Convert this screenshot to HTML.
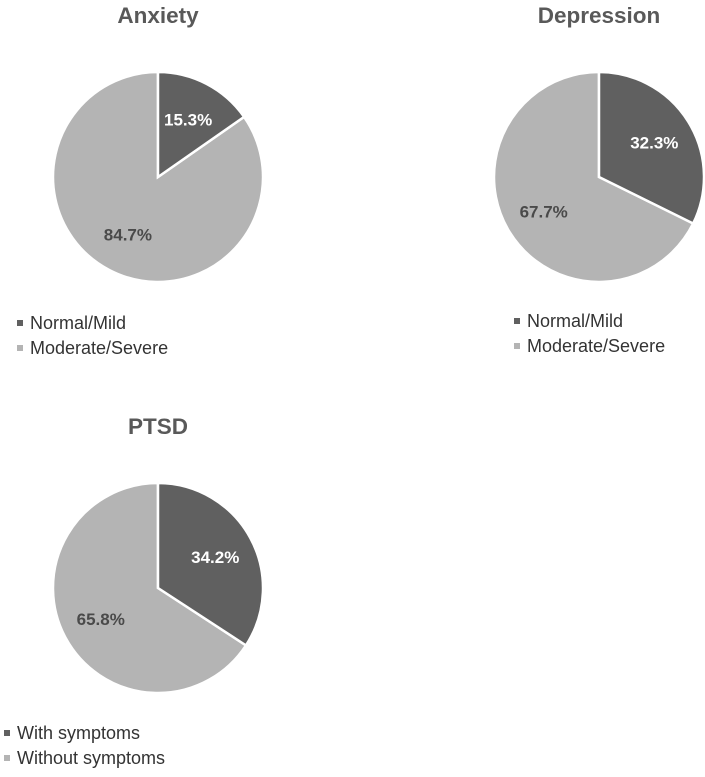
<!DOCTYPE html>
<html><head><meta charset="utf-8"><style>
body{margin:0;background:#fff;width:705px;height:772px;overflow:hidden;font-family:"Liberation Sans",Arial,sans-serif}
</style></head><body>
<svg id="chart" width="705" height="772"></svg>
<script>
const titles=["Anxiety","Depression","PTSD"];
const darkValues=[15.3,32.3,34.2];
const lightValues=[84.7,67.7,65.8];
const legendDark=["Normal/Mild","Normal/Mild","With symptoms"];
const legendLight=["Moderate/Severe","Moderate/Severe","Without symptoms"];
const layout=[{cx:158,cy:177,lx:17,ly:323},{cx:599,cy:177,lx:514,ly:321},{cx:158,cy:588,lx:4,ly:733}];
const R=105,NS="http://www.w3.org/2000/svg",svg=document.getElementById('chart');
function mk(t,a,p){const e=document.createElementNS(NS,t);for(const k in a)e.setAttribute(k,a[k]);(p||svg).appendChild(e);return e;}
function pt(cx,cy,r,f){const a=f*2*Math.PI;return [cx+r*Math.sin(a),cy-r*Math.cos(a)];}
function slice(cx,cy,f0,f1,fill){const [x0,y0]=pt(cx,cy,R,f0),[x1,y1]=pt(cx,cy,R,f1);const large=(f1-f0)>0.5?1:0;
return mk('path',{d:`M${cx},${cy}L${x0},${y0}A${R},${R} 0 ${large} 1 ${x1},${y1}Z`,fill:fill,stroke:'#fff','stroke-width':2.5});}
titles.forEach((t,i)=>{const L=layout[i];const tot=darkValues[i]+lightValues[i];const fd=darkValues[i]/tot;
const ti=mk('text',{x:L.cx,y:L.cy-154,'text-anchor':'middle','font-size':22.5,'font-weight':'bold',fill:'#595959'});ti.textContent=t;


const s2=slice(L.cx,L.cy,fd,1,'#b4b4b4');


const s1=slice(L.cx,L.cy,0,fd,'#606060');


const [dx,dy]=pt(L.cx,L.cy,R*0.62,fd/2);
const t1=mk('text',{x:dx,y:dy+6,'text-anchor':'middle','font-size':17,'font-weight':'bold',fill:'#fff'});t1.textContent=darkValues[i].toFixed(1)+'%';


const [lx,ly]=pt(L.cx,L.cy,R*0.62,fd+(1-fd)/2);
const t2=mk('text',{x:lx,y:ly+6,'text-anchor':'middle','font-size':17,'font-weight':'bold',fill:'#4a4a4a'});t2.textContent=lightValues[i].toFixed(1)+'%';


[[legendDark[i],'#606060',0],[legendLight[i],'#b4b4b4',25]].forEach(([txt,c,off])=>{
const g=mk('g',{});


mk('rect',{x:L.lx,y:L.ly+off-3,width:6,height:6,fill:c},g);
const tx=mk('text',{x:L.lx+13,y:L.ly+off+6,'font-size':18,fill:'#333'},g);tx.textContent=txt;});
});
</script>
</body></html>
